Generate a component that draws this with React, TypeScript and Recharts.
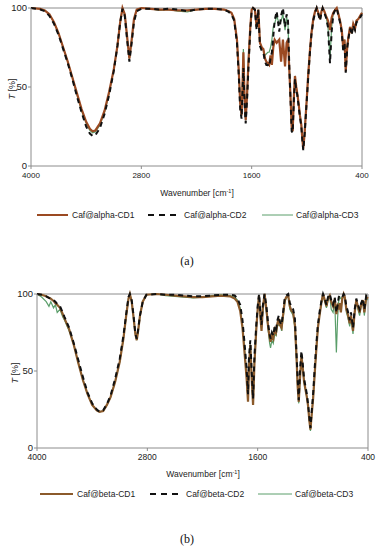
import React from 'react';
import { LineChart, Line, XAxis, YAxis, ReferenceLine } from 'recharts';

const FONT = '"Liberation Sans", Arial, sans-serif';

// ---------- Panel (a) ----------
const waveA = [
  4000, 3900, 3850, 3800, 3750, 3700, 3650, 3600, 3550, 3500,
  3450, 3400, 3360, 3330, 3300, 3250, 3200, 3150, 3100, 3060,
  3030, 3005, 2980, 2955, 2930, 2905, 2880, 2850, 2800, 2700,
  2600, 2500, 2400, 2300, 2200, 2100, 2000, 1900, 1850, 1820,
  1790, 1760, 1740, 1725, 1710, 1700, 1690, 1678, 1665, 1650,
  1635, 1615, 1600, 1585, 1565, 1546, 1528, 1510, 1490, 1473,
  1455, 1440, 1425, 1410, 1395, 1380, 1365, 1350, 1328, 1300,
  1280, 1260, 1237, 1220, 1205, 1190, 1175, 1165, 1154, 1140,
  1129, 1115, 1104, 1090, 1075, 1060, 1050, 1039, 1025, 1010,
  1000, 985, 966, 950, 930, 910, 893, 875, 857, 840,
  828, 810, 792, 770, 748, 730, 712, 690, 675, 660,
  639, 620, 603, 590, 577, 560, 549, 530, 512, 495,
  476, 460, 440, 420, 400,
];
const alphaCD1 = [
  100, 99.5, 98.5, 96, 91, 84, 75, 66, 56, 46,
  36, 28, 23.5, 22, 22.5, 27, 35, 47, 61, 76,
  91, 100, 96, 82, 68, 80, 93, 99, 100, 99.5,
  99, 99, 98.5, 98.5, 99, 99.5, 99.5, 99, 98, 97,
  93, 80, 60, 40, 32, 50, 72, 45, 29, 45,
  66, 88, 99, 100, 99, 88, 99, 78, 75, 74,
  68, 66, 65, 64, 70, 64, 75, 80, 78, 80,
  66, 80, 63, 78, 80, 60, 40, 25, 22, 45,
  57, 50, 46, 40, 32, 26, 18, 11, 20, 34,
  43, 58, 73, 84, 93, 98, 100, 97, 93, 98,
  100, 98, 95, 92, 86, 94, 97, 99, 100, 97,
  92, 86, 74, 80, 60, 76, 81, 88, 84, 90,
  87, 92, 93, 95, 97,
];
const alphaCD2 = [
  100, 99, 98, 95, 90, 83, 74, 65, 55, 44,
  34, 25, 20.5, 19, 19.5, 24, 33, 45, 60, 76,
  91, 99.5, 95, 80, 66, 78, 91, 98, 99.5, 99.5,
  99, 99.5, 99, 98, 99, 99.5, 99.5, 99, 97.5, 96,
  92, 78, 57, 36, 30, 46, 62, 40, 27, 42,
  62, 86, 98, 100, 99, 86, 99, 76, 73, 72,
  66, 64, 64, 63, 68, 72, 82, 92, 98, 85,
  95, 100, 88, 96, 92, 62, 38, 22, 21, 43,
  55, 48, 45, 38, 31, 25, 17, 10, 19, 33,
  42, 56, 72, 83, 92, 97, 100, 96, 92, 97,
  100, 97, 94, 88, 65, 85, 96, 99, 100, 96,
  91, 84, 72, 78, 59, 75, 80, 87, 83, 89,
  86, 91, 92, 94, 96,
];
const alphaCD3 = [
  100, 99.5, 98.5, 96, 91, 84, 75, 66, 56, 45,
  35, 27, 22.5, 21, 21.5, 26, 34, 46, 61, 76,
  91, 100, 96, 82, 68, 80, 93, 99, 100, 99.5,
  98.5, 99, 98, 97.5, 99, 99.5, 99.5, 99, 98, 97,
  93, 80, 60, 40, 32, 52, 74, 46, 29, 46,
  66, 88, 99, 100, 99, 88, 99, 78, 75, 74,
  70, 71, 72, 72, 75, 80, 88, 90, 95, 90,
  92, 96, 86, 94, 90, 62, 40, 24, 22, 45,
  57, 50, 46, 40, 32, 26, 18, 11, 20, 34,
  43, 58, 73, 84, 93, 98, 100, 97, 93, 98,
  100, 98, 95, 88, 68, 88, 97, 99, 100, 97,
  92, 86, 74, 80, 61, 76, 81, 88, 84, 90,
  87, 92, 93, 95, 97,
];

// ---------- Panel (b) ----------
const waveB = [
  4000, 3950, 3900, 3870, 3850, 3820, 3800, 3780, 3750, 3720,
  3700, 3650, 3600, 3550, 3500, 3450, 3400, 3350, 3320, 3280,
  3240, 3200, 3150, 3100, 3060, 3030, 3005, 2990, 2970, 2950,
  2930, 2915, 2900, 2880, 2850, 2810, 2700, 2600, 2500, 2400,
  2300, 2200, 2100, 2000, 1900, 1850, 1820, 1790, 1765, 1740,
  1720, 1705, 1695, 1680, 1665, 1650, 1635, 1615, 1600, 1585,
  1570, 1558, 1545, 1525, 1505, 1485, 1470, 1460, 1445, 1430,
  1415, 1400, 1385, 1370, 1359, 1340, 1320, 1304, 1290, 1268,
  1250, 1232, 1214, 1195, 1178, 1165, 1153, 1140, 1124, 1110,
  1095, 1080, 1065, 1051, 1038, 1026, 1012, 997, 980, 961,
  945, 925, 905, 889, 870, 852, 835, 816, 800, 780,
  762, 744, 730, 718, 708, 695, 680, 665, 653, 635,
  620, 599, 585, 563, 545, 527, 510, 491, 475, 455,
  440, 419, 400,
];
const betaCD1 = [
  100, 99.5, 98.5, 97.5, 97, 95.5, 94, 93, 91, 87,
  84, 77, 67, 55, 44, 35, 28, 24.5, 23.5, 24,
  28, 33, 43, 56, 71, 86, 97, 100, 95, 85,
  74, 70, 76, 86, 95, 99.5, 100, 99.5, 99, 98.5,
  98, 98, 98.5, 99, 98.5, 97, 95, 89, 78, 60,
  45, 30, 52, 67, 45, 28, 55, 77, 90, 99,
  85, 76, 90, 100, 90, 78, 72, 69, 73, 71,
  77, 75, 81, 84, 80, 78, 88, 96, 98, 99,
  92, 89, 88, 80, 60, 40, 30, 45, 60, 52,
  43, 38, 33, 27, 18, 12, 22, 32, 48, 65,
  78, 87, 95, 100, 96, 92, 97, 99, 95, 92,
  97, 87, 92, 90, 94, 88, 97, 100, 98, 90,
  87, 81, 86, 76, 88, 96, 92, 88, 93, 96,
  88, 98, 97,
];
const betaCD2 = [
  100, 99.5, 98.5, 97.5, 97, 96, 95, 93.5, 92, 88,
  85, 78, 68, 57, 46, 36, 29, 25, 23.5, 24.5,
  28.5, 34, 45, 58, 73, 87, 98, 100, 96, 86,
  74, 71, 77, 86, 95, 99.5, 100, 99.5, 99.5, 99,
  98.5, 98.5, 99, 99.5, 99.5, 99, 97, 93, 83, 66,
  52, 35, 58, 70, 50, 32, 60, 80, 92, 100,
  88, 80, 92, 100, 92, 80, 74, 71, 75, 73,
  79, 77, 83, 86, 82, 80, 90, 98, 99, 100,
  94, 92, 90, 84, 62, 45, 31, 50, 63, 55,
  45, 40, 35, 28, 20, 13, 24, 35, 52, 68,
  80, 89, 96, 100, 97, 93, 98, 100, 96, 93,
  98, 88, 93, 98, 99, 99, 98, 100, 99, 92,
  89, 83, 88, 78, 90, 97, 93, 90, 94, 97,
  90, 99, 98,
];
const betaCD3 = [
  100, 98, 95, 92, 95, 91, 93, 88, 90, 85,
  83, 76, 67, 55, 44, 35, 28, 24.5, 23.5, 24,
  28, 33, 43, 56, 71, 86, 97, 100, 95, 85,
  74, 70, 76, 86, 95, 99.5, 100, 99, 98.5, 98,
  97.5, 98, 99, 99.5, 99, 98, 96, 91, 80, 62,
  47, 31, 53, 67, 46, 28, 56, 77, 90, 99,
  85, 78, 88, 100, 88, 76, 68, 65, 70, 68,
  74, 73, 79, 80, 83, 76, 86, 95, 97, 99,
  90, 88, 86, 78, 58, 40, 29, 45, 60, 52,
  42, 38, 33, 27, 18, 11, 22, 32, 48, 65,
  78, 87, 95, 100, 95, 91, 96, 99, 90, 88,
  96, 62, 85, 96, 98, 97, 98, 100, 98, 88,
  85, 79, 84, 74, 88, 96, 90, 86, 92, 95,
  86, 97, 96,
];

const xTicks = [4000, 2800, 1600, 400];
const yTicks = [0, 50, 100];
const namesA = ['Caf@alpha-CD1', 'Caf@alpha-CD2', 'Caf@alpha-CD3'];
const namesB = ['Caf@beta-CD1', 'Caf@beta-CD2', 'Caf@beta-CD3'];

const AXIS = '#8c8c8c';
const GREEN = '#5a9e6a';
const BROWN_A = '#9b4a22';
const BROWN_B = '#8b5a2b';

type SpecProps = {
  waves: number[];
  s1: number[];
  s2: number[];
  s3: number[];
  top: number;
  height: number;
  rightMargin: number;
  yWidth: number;
  brown: string;
  xFont: number;
};

function Spectrum({ waves, s1, s2, s3, top, height, rightMargin, yWidth, brown, xFont }: SpecProps) {
  const data = waves.map((w, i) => ({ w, s1: s1[i], s2: s2[i], s3: s3[i] }));
  return (
    <div style={{ position: 'absolute', left: 0, top }}>
      <LineChart width={379} height={height} data={data} margin={{ top: 8, right: rightMargin, left: 0, bottom: 0 }}>
        <XAxis
          dataKey="w"
          type="number"
          domain={[400, 4000]}
          reversed
          ticks={xTicks}
          interval={0}
          tick={{ fontSize: xFont, fill: '#222', fontFamily: FONT }}
          stroke={AXIS}
          tickSize={3}
          tickMargin={3}
          height={14}
        />
        <YAxis
          type="number"
          domain={[0, 100]}
          ticks={yTicks}
          interval={0}
          width={yWidth}
          tick={{ fontSize: 9.5, fill: '#222', fontFamily: FONT }}
          stroke={AXIS}
          tickSize={3}
          tickMargin={1}
        />
        <ReferenceLine y={100} stroke={AXIS} />
        <ReferenceLine x={400} stroke={AXIS} />
        <Line dataKey="s3" stroke={GREEN} strokeWidth={1.2} dot={false} isAnimationActive={false} />
        <Line dataKey="s1" stroke={brown} strokeWidth={2.2} dot={false} isAnimationActive={false} />
        <Line dataKey="s2" stroke="#111" strokeWidth={2} strokeDasharray="5 4" dot={false} isAnimationActive={false} />
      </LineChart>
    </div>
  );
}

type LegendProps = { y: number; names: string[]; brown: string; lines: number[][]; texts: number[] };

function LegendRow({ y, names, brown, lines, texts }: LegendProps) {
  return (
    <g fontFamily={FONT} fontSize={8.5} fill="#222">
      <line x1={lines[0][0]} x2={lines[0][1]} y1={y} y2={y} stroke={brown} strokeWidth={2} />
      <line x1={lines[1][0]} x2={lines[1][1]} y1={y} y2={y} stroke="#111" strokeWidth={2.2} strokeDasharray="6 5" />
      <line x1={lines[2][0]} x2={lines[2][1]} y1={y} y2={y} stroke={GREEN} strokeWidth={1} />
      {names.map((n, i) => (
        <text key={n} x={texts[i]} y={y + 3}>{n}</text>
      ))}
    </g>
  );
}

function XLabel({ x, y }: { x: number; y: number }) {
  return (
    <text x={x} y={y} textAnchor="middle" fontFamily={FONT} fontSize={8.5} fill="#222">
      Wavenumber [cm<tspan fontSize={5.5} dy={-3}>-1</tspan><tspan dy={3}>]</tspan>
    </text>
  );
}

function YLabel({ x, y }: { x: number; y: number }) {
  return (
    <text transform={`translate(${x},${y}) rotate(-90)`} textAnchor="middle" fontFamily={FONT} fontSize={9} fill="#222">
      <tspan fontStyle="italic">T</tspan> [%]
    </text>
  );
}

export default function App() {
  return (
    <div style={{ position: 'absolute', left: 0, top: 0, width: 379, height: 550, background: '#fff' }}>
      <Spectrum waves={waveA} s1={alphaCD1} s2={alphaCD2} s3={alphaCD3} top={0} height={180} rightMargin={17} yWidth={31} brown={BROWN_A} xFont={8} />
      <Spectrum waves={waveB} s1={betaCD1} s2={betaCD2} s3={betaCD3} top={286} height={176} rightMargin={11} yWidth={37} brown={BROWN_B} xFont={8.5} />
      <svg width={379} height={550} style={{ position: 'absolute', left: 0, top: 0, pointerEvents: 'none' }}>
        <YLabel x={14.5} y={89} />
        <XLabel x={197} y={195.5} />
        <LegendRow y={215} names={namesA} brown={BROWN_A} lines={[[37, 68], [148, 181], [262, 293]]} texts={[72, 184, 296]} />
        <text x={187} y={265} textAnchor="middle" fontFamily='"Liberation Serif", "Times New Roman", serif' fontSize={12} fill="#111">(a)</text>

        <YLabel x={17.5} y={373} />
        <XLabel x={203} y={477} />
        <LegendRow y={494} names={namesB} brown={BROWN_B} lines={[[40, 73], [150, 183], [258, 292]]} texts={[77, 186, 295]} />
        <text x={187} y={543} textAnchor="middle" fontFamily='"Liberation Serif", "Times New Roman", serif' fontSize={12} fill="#111">(b)</text>
      </svg>
    </div>
  );
}
